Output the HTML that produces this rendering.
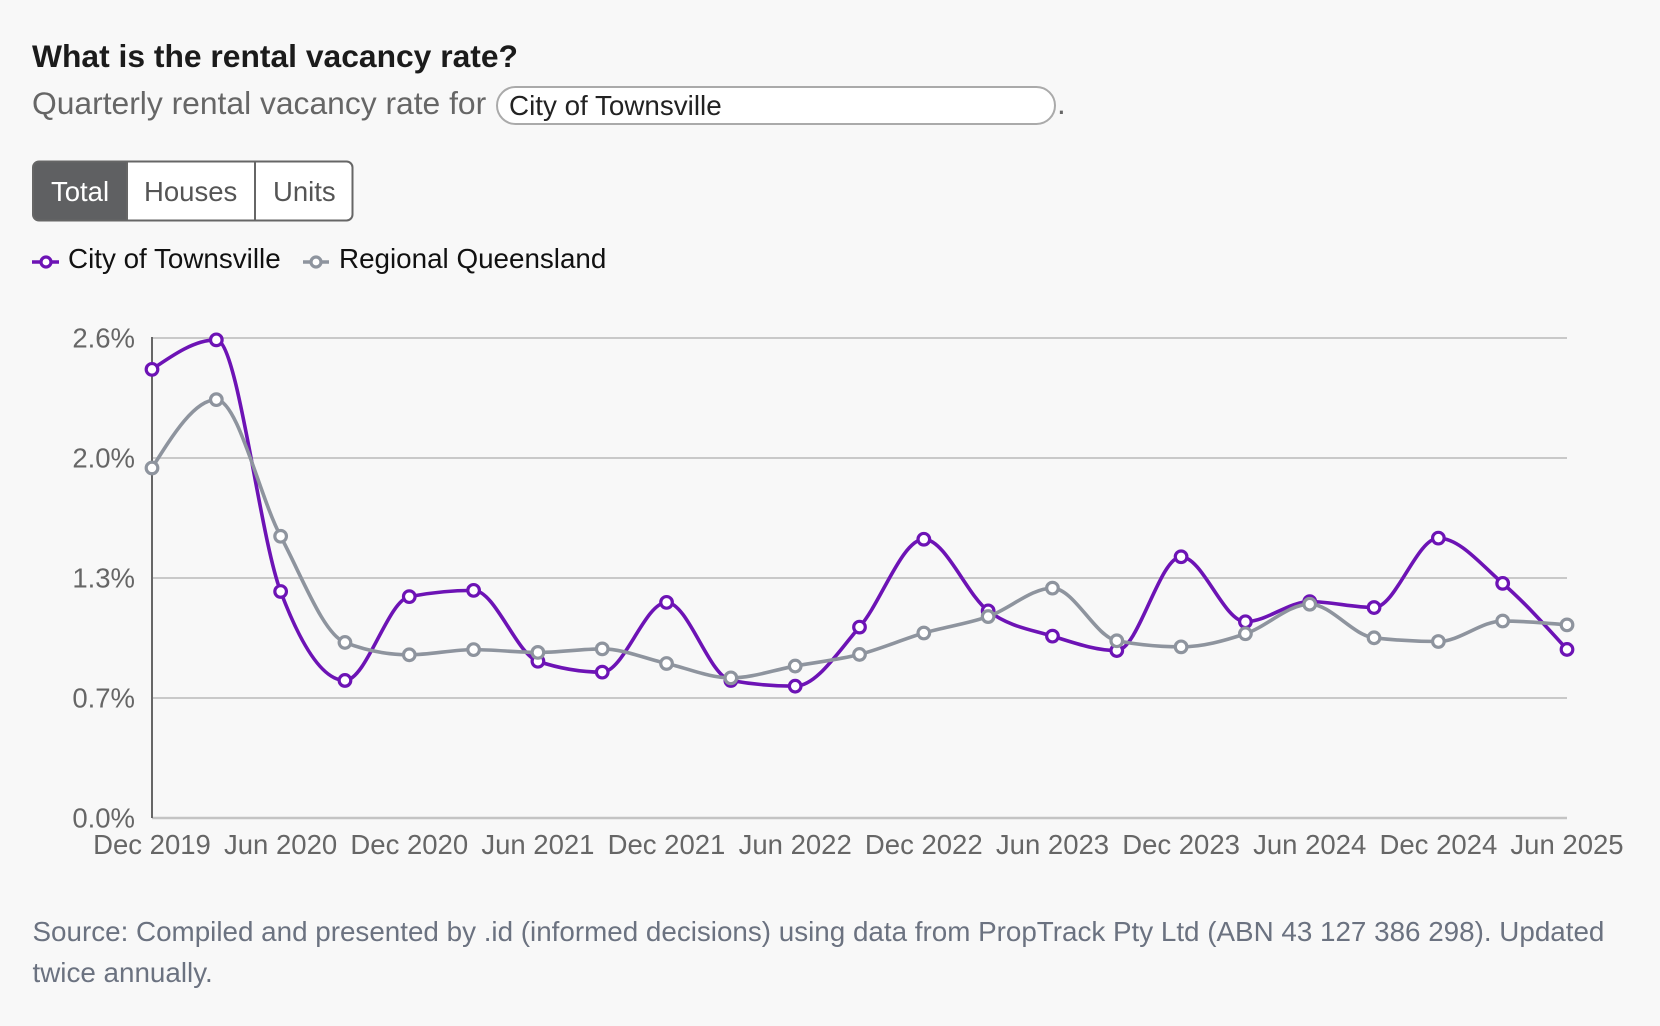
<!DOCTYPE html>
<html>
<head>
<meta charset="utf-8">
<style>
  html,body{margin:0;padding:0;background:#f8f8f8;}
  body{width:1660px;height:1026px;overflow:hidden;}
  svg{display:block;font-family:"Liberation Sans",Arial,sans-serif;}
</style>
</head>
<body>
<svg id="s" width="1660" height="1026" viewBox="0 0 1660 1026" xmlns="http://www.w3.org/2000/svg">
  <rect x="0" y="0" width="1660" height="1026" fill="#f8f8f8"/>
  <!-- Title -->
  <text x="32" y="67" font-size="31.8" font-weight="bold" fill="#1b1b1b">What is the rental vacancy rate?</text>
  <text x="32" y="114" font-size="31.8" fill="#666666">Quarterly rental vacancy rate for</text>
  <rect x="497" y="87" width="558" height="37" rx="18.5" ry="18.5" fill="#ffffff" stroke="#aaaaaa" stroke-width="2"/>
  <text x="509" y="115" font-size="27.8" fill="#222222">City of Townsville</text>
  <text x="1057" y="114" font-size="31.5" fill="#666666">.</text>

  <!-- Button group -->
  <rect x="33" y="161.5" width="319.5" height="59" rx="6" ry="6" fill="#ffffff"/>
  <path d="M127,161.5 L39,161.5 Q33,161.5 33,167.5 L33,214.5 Q33,220.5 39,220.5 L127,220.5 Z" fill="#5f6062"/>
  <line x1="127" y1="161.5" x2="127" y2="220.5" stroke="#666" stroke-width="2"/>
  <line x1="255" y1="161.5" x2="255" y2="220.5" stroke="#666" stroke-width="2"/>
  <rect x="33" y="161.5" width="319.5" height="59" rx="6" ry="6" fill="none" stroke="#666" stroke-width="2"/>
  <text x="51" y="201" font-size="27.5" fill="#ffffff">Total</text>
  <text x="144" y="201" font-size="27.5" fill="#555555">Houses</text>
  <text x="273" y="201" font-size="27.5" fill="#555555">Units</text>

  <!-- Legend -->
  <line x1="32" y1="262" x2="59" y2="262" stroke="#6d13b5" stroke-width="3.5"/>
  <circle cx="46" cy="262" r="5" fill="#fff" stroke="#6d13b5" stroke-width="3.2"/>
  <text x="68" y="268" font-size="27.8" fill="#111111">City of Townsville</text>
  <line x1="303" y1="262" x2="329" y2="262" stroke="#8e949e" stroke-width="3.5"/>
  <circle cx="316" cy="262" r="5" fill="#fff" stroke="#8e949e" stroke-width="3.2"/>
  <text x="339" y="268" font-size="27.8" fill="#111111">Regional Queensland</text>

  <!-- Grid -->
  <g stroke="#c9c9c9" stroke-width="2">
    <line x1="152" y1="338" x2="1567" y2="338"/>
    <line x1="152" y1="458" x2="1567" y2="458"/>
    <line x1="152" y1="578" x2="1567" y2="578"/>
    <line x1="152" y1="698" x2="1567" y2="698"/>
  </g>
  <line x1="152" y1="818" x2="1567" y2="818" stroke="#c4c4c4" stroke-width="2.5"/>
  <line x1="152" y1="337" x2="152" y2="818" stroke="#666666" stroke-width="2"/>

  <!-- Y labels -->
  <g font-size="27.5" fill="#666666" text-anchor="end">
    <text x="135" y="347.5">2.6%</text>
    <text x="135" y="467.5">2.0%</text>
    <text x="135" y="587.5">1.3%</text>
    <text x="135" y="707.5">0.7%</text>
    <text x="135" y="827.5">0.0%</text>
  </g>

  <!-- X labels -->
  <g id="xl" font-size="27.5" fill="#666666" text-anchor="middle">
    <text x="152" y="854">Dec 2019</text>
    <text x="280.6" y="854">Jun 2020</text>
    <text x="409.3" y="854">Dec 2020</text>
    <text x="537.9" y="854">Jun 2021</text>
    <text x="666.5" y="854">Dec 2021</text>
    <text x="795.2" y="854">Jun 2022</text>
    <text x="923.8" y="854">Dec 2022</text>
    <text x="1052.5" y="854">Jun 2023</text>
    <text x="1181.1" y="854">Dec 2023</text>
    <text x="1309.7" y="854">Jun 2024</text>
    <text x="1438.4" y="854">Dec 2024</text>
    <text x="1567" y="854">Jun 2025</text>
  </g>

  <g id="series"></g>

  <!-- Footer -->
  <g font-size="27.8" fill="#6b7280">
    <text x="32.5" y="941">Source: Compiled and presented by .id (informed decisions) using data from PropTrack Pty Ltd (ABN 43 127 386 298). Updated</text>
    <text x="32.5" y="982">twice annually.</text>
  </g>
</svg>
<script>
(function(){
  var purple=[2.43,2.59,1.227,0.745,1.199,1.233,0.849,0.79,1.168,0.745,0.714,1.034,1.51,1.122,0.985,0.907,1.415,1.063,1.172,1.14,1.516,1.271,0.913];
  var grey=[1.896,2.266,1.526,0.951,0.884,0.912,0.897,0.916,0.837,0.759,0.823,0.886,1.002,1.091,1.245,0.96,0.927,0.998,1.158,0.976,0.956,1.067,1.046];
  var x0=152,x1=1567,yTop=338,yBot=818;
  function X(i){return x0+(x1-x0)*i/22;}
  function Y(v){return yBot-(yBot-yTop)*v/2.6;}
  function sign(x){return x<0?-1:1;}
  function monotone(pts){
    var n=pts.length, t=new Array(n);
    var s=[],h=[];
    for(var i=0;i<n-1;i++){h[i]=pts[i+1][0]-pts[i][0];s[i]=(pts[i+1][1]-pts[i][1])/h[i];}
    for(var i=1;i<n-1;i++){
      var h0=h[i-1],h1=h[i],s0=s[i-1],s1=s[i];
      var p=(s0*h1+s1*h0)/(h0+h1);
      t[i]=(sign(s0)+sign(s1))*Math.min(Math.abs(s0),Math.abs(s1),0.5*Math.abs(p))||0;
    }
    t[0]=(3*s[0]-t[1])/2;
    t[n-1]=(3*s[n-2]-t[n-2])/2;
    var d="M"+pts[0][0].toFixed(2)+","+pts[0][1].toFixed(2);
    for(var i=0;i<n-1;i++){
      var dx=h[i]/3;
      d+="C"+(pts[i][0]+dx).toFixed(2)+","+(pts[i][1]+dx*t[i]).toFixed(2)+" "+
         (pts[i+1][0]-dx).toFixed(2)+","+(pts[i+1][1]-dx*t[i+1]).toFixed(2)+" "+
         pts[i+1][0].toFixed(2)+","+pts[i+1][1].toFixed(2);
    }
    return d;
  }
  var NS="http://www.w3.org/2000/svg";
  var g=document.getElementById("series");
  function draw(data,color){
    var pts=data.map(function(v,i){return [X(i),Y(v)];});
    var p=document.createElementNS(NS,"path");
    p.setAttribute("d",monotone(pts));
    p.setAttribute("fill","none");
    p.setAttribute("stroke",color);
    p.setAttribute("stroke-width","3.6");
    p.setAttribute("stroke-linejoin","round");
    g.appendChild(p);
    pts.forEach(function(q){
      var c=document.createElementNS(NS,"circle");
      c.setAttribute("cx",q[0]);c.setAttribute("cy",q[1]);c.setAttribute("r","5.8");
      c.setAttribute("fill","#ffffff");c.setAttribute("stroke",color);c.setAttribute("stroke-width","3.2");
      g.appendChild(c);
    });
  }
  draw(purple,"#6d13b5");
  draw(grey,"#8e949e");
})();
</script>
</body>
</html>
